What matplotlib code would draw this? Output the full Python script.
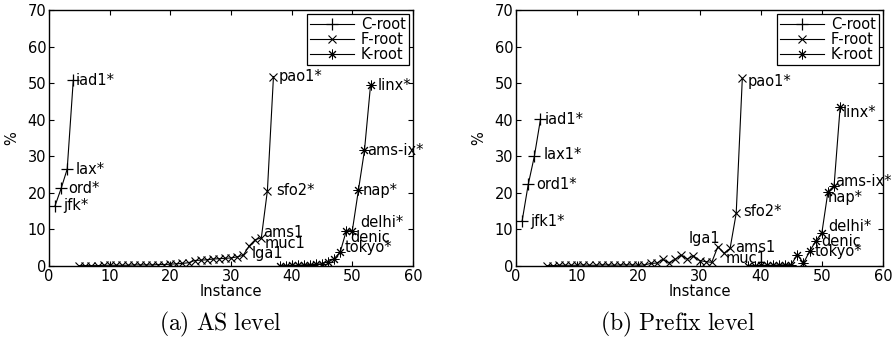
import matplotlib
matplotlib.use('Agg')
import matplotlib.pyplot as plt
from matplotlib.ticker import MultipleLocator

plt.rcParams['font.family'] = ['DejaVu Sans']
plt.rcParams['mathtext.fontset'] = 'cm'

# ---- data ----
c_x = [1, 2, 3, 4]
f_x = list(range(5, 38))
k_x = list(range(38, 54))

# (a) AS level
c_as = [16.5, 21.2, 26.5, 50.8]
f_as = [0.1, 0.1, 0.1, 0.1, 0.2, 0.2, 0.2, 0.2, 0.2, 0.3, 0.3, 0.3, 0.3,
        0.4, 0.4, 0.5, 0.6, 0.7, 0.9, 1.5, 1.6, 1.7, 1.9, 2.0, 2.1, 2.2,
        2.5, 2.9, 5.5, 7.2, 7.7, 20.6, 51.8]
k_as = [0.1, 0.1, 0.2, 0.2, 0.3, 0.4, 0.5, 0.6, 1.2, 2.0, 3.8, 9.6, 9.7,
        20.7, 31.6, 49.4]

# (b) Prefix level
c_pf = [12.3, 22.3, 30.0, 40.1]
f_pf = [0.1, 0.1, 0.2, 0.2, 0.2, 0.2, 0.3, 0.2, 0.2, 0.3, 0.3, 0.2, 0.3,
        0.3, 0.3, 0.2, 0.3, 0.7, 0.8, 1.8, 0.9, 1.8, 3.0, 1.9, 2.8, 1.5,
        1.2, 1.0, 5.3, 3.5, 4.8, 14.4, 51.3]
k_pf = [0.1, 0.1, 0.2, 0.2, 0.2, 0.3, 0.3, 0.4, 3.1, 0.8, 4.0, 6.8, 9.0,
        20.3, 21.9, 43.6]

series_names = ['C-root', 'F-root', 'K-root']
captions = ['(a) AS level', '(b) Prefix level']

# point labels: (series, instance, text)
labels_as = [('C', 1, 'jfk*'), ('C', 2, 'ord*'), ('C', 3, 'lax*'), ('C', 4, 'iad1*'),
             ('F', 32, 'lga1'), ('F', 34, 'muc1'), ('F', 35, 'ams1'),
             ('F', 36, 'sfo2*'), ('F', 37, 'pao1*'),
             ('K', 48, 'tokyo*'), ('K', 49, 'denic'), ('K', 50, 'delhi*'),
             ('K', 51, 'nap*'), ('K', 52, 'ams-ix*'), ('K', 53, 'linx*')]
labels_pf = [('C', 1, 'jfk1*'), ('C', 2, 'ord1*'), ('C', 3, 'lax1*'), ('C', 4, 'iad1*'),
             ('F', 33, 'lga1'), ('F', 34, 'muc1'), ('F', 35, 'ams1'),
             ('F', 36, 'sfo2*'), ('F', 37, 'pao1*'),
             ('K', 48, 'tokyo*'), ('K', 49, 'denic'), ('K', 50, 'delhi*'),
             ('K', 51, 'nap*'), ('K', 52, 'ams-ix*'), ('K', 53, 'linx*')]

# label offsets in points (dx, dy, ha)
offs_as = {'jfk*': (6, 0, 'left'), 'ord*': (5, 0, 'left'), 'lax*': (6, 0, 'left'),
           'iad1*': (2, 0, 'left'), 'lga1': (6, 1.5, 'left'), 'muc1': (7, -3, 'left'),
           'ams1': (1.5, 3.5, 'left'), 'sfo2*': (6, 0, 'left'), 'pao1*': (4, 0, 'left'),
           'tokyo*': (3, 3, 'left'), 'denic': (3, -5, 'left'), 'delhi*': (6, 6, 'left'),
           'nap*': (3, 0, 'left'), 'ams-ix*': (2, 0, 'left'), 'linx*': (5, 0, 'left')}
offs_pf = {'jfk1*': (6, 0, 'left'), 'ord1*': (6, 0, 'left'), 'lax1*': (6.5, 1, 'left'),
           'iad1*': (3, 0, 'left'), 'lga1': (2, 6, 'right'), 'muc1': (1, -4, 'left'),
           'ams1': (3.5, 1, 'left'), 'sfo2*': (5, 1, 'left'), 'pao1*': (4, -2, 'left'),
           'tokyo*': (3.5, 0, 'left'), 'denic': (4, 0, 'left'), 'delhi*': (4.5, 5, 'left'),
           'nap*': (0, -4, 'left'), 'ams-ix*': (1, 3, 'left'), 'linx*': (2, -4.5, 'left')}

FS = 10.5
ASTERISK = (8, 2, 0)


def draw_panel(ax, c_y, f_y, k_y, labels, offs, caption, cap_x):
    ax.plot(c_x, c_y, color='black', lw=0.8, marker='+', ms=8, mew=0.9, label=series_names[0])
    ax.plot(f_x, f_y, color='black', lw=0.8, marker='x', ms=5.5, mew=0.8, label=series_names[1])
    ax.plot(k_x, k_y, color='black', lw=0.8, marker=ASTERISK, ms=7, mew=0.7,
            label=series_names[2])

    lookup = {'C': (c_x, c_y), 'F': (f_x, f_y), 'K': (k_x, k_y)}
    for s, inst, txt in labels:
        xs, ys = lookup[s]
        y = ys[xs.index(inst)]
        dx, dy, ha = offs[txt]
        ax.annotate(txt, (inst, y), xytext=(dx, dy), textcoords='offset points',
                    ha=ha, va='center', fontsize=FS)

    ax.set_xlim(0, 60)
    ax.set_ylim(0, 70)
    ax.xaxis.set_major_locator(MultipleLocator(10))
    ax.yaxis.set_major_locator(MultipleLocator(10))
    ax.tick_params(direction='in', top=True, right=True, labelsize=FS,
                   length=3.5, width=0.8, pad=2)
    for sp in ax.spines.values():
        sp.set_linewidth(1.0)
    ax.set_xlabel('Instance', fontsize=FS, labelpad=0)
    ax.set_ylabel('%', fontsize=FS, labelpad=6)
    leg = ax.legend(loc='upper right', fontsize=FS, handlelength=3.0,
                    borderpad=0.2, labelspacing=0.0, handletextpad=0.5,
                    borderaxespad=0.3, fancybox=False, framealpha=1)
    leg.get_frame().set_edgecolor('black')
    leg.get_frame().set_linewidth(0.9)
    ax.text(cap_x, -0.23, r'$\mathrm{' + caption.replace(' ', r'\ ') + '}$',
            transform=ax.transAxes, ha='center', va='center', fontsize=17)


fig = plt.figure(figsize=(8.96, 3.40), dpi=100)
ax1 = fig.add_axes([49 / 896, 74 / 340, 364 / 896, 256 / 340])
ax2 = fig.add_axes([516 / 896, 74 / 340, 367 / 896, 256 / 340])

draw_panel(ax1, c_as, f_as, k_as, labels_as, offs_as, captions[0], 0.47)
draw_panel(ax2, c_pf, f_pf, k_pf, labels_pf, offs_pf, captions[1], 0.44)

fig.savefig('out.png', dpi=100)
